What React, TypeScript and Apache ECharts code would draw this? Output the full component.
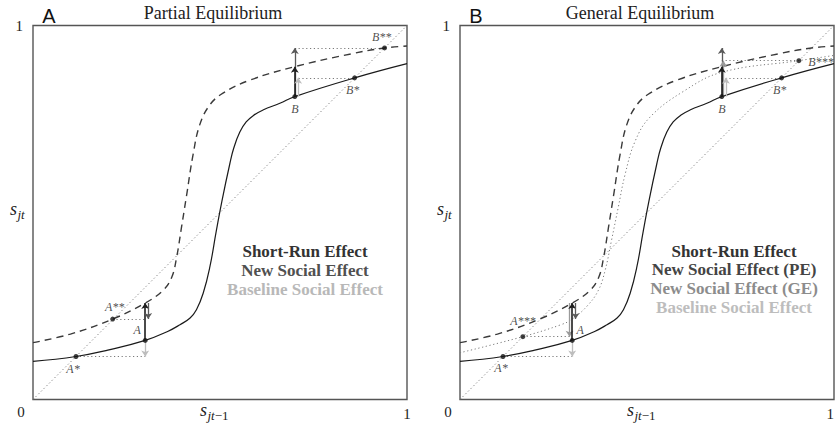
import React, { useEffect, useRef } from "react";
import * as echarts from "echarts";

// ---------- data ----------
const diagX = [0, 1];
const diagY = [0, 1];

const solidX = [0, 0.115, 0.2, 0.3, 0.36, 0.393, 0.42, 0.437, 0.455, 0.473, 0.49, 0.505, 0.526, 0.537, 0.553, 0.57, 0.59, 0.615, 0.66, 0.7, 0.86, 1];
const solidY = [0.102, 0.115, 0.132, 0.158, 0.182, 0.2, 0.218, 0.24, 0.284, 0.355, 0.45, 0.53, 0.629, 0.673, 0.715, 0.742, 0.76, 0.774, 0.792, 0.81, 0.86, 0.898];

const dashedX = [0, 0.1, 0.213, 0.3, 0.348, 0.371, 0.384, 0.397, 0.411, 0.428, 0.446, 0.473, 0.508, 0.58, 0.7, 0.85, 0.94, 1];
const dashedY = [0.152, 0.175, 0.215, 0.258, 0.292, 0.327, 0.38, 0.46, 0.548, 0.655, 0.735, 0.788, 0.819, 0.854, 0.89, 0.924, 0.94, 0.945];

const geX = [0, 0.168, 0.27, 0.3, 0.34, 0.37, 0.388, 0.405, 0.423, 0.441, 0.468, 0.508, 0.596, 0.7, 0.906, 1];
const geY = [0.125, 0.168, 0.2, 0.215, 0.25, 0.292, 0.345, 0.425, 0.513, 0.6, 0.69, 0.755, 0.823, 0.875, 0.906, 0.92];

const pointNamesA = ["A*", "A**", "A", "B", "B*", "B**"];
const pointXA = [0.115, 0.213, 0.3, 0.7, 0.86, 0.94];
const pointYA = [0.115, 0.215, 0.158, 0.81, 0.86, 0.94];

const pointNamesB = ["A*", "A***", "A", "B", "B*", "B***"];
const pointXB = [0.115, 0.168, 0.3, 0.7, 0.86, 0.906];
const pointYB = [0.115, 0.168, 0.158, 0.81, 0.86, 0.906];

// connectors: [x0, x1, y]
const connectorsA = [
  [0.115, 0.3, 0.115],
  [0.213, 0.3, 0.215],
  [0.7, 0.94, 0.94],
  [0.7, 0.86, 0.86],
];
const connectorsB = [
  [0.115, 0.3, 0.115],
  [0.168, 0.3, 0.168],
  [0.7, 0.906, 0.906],
  [0.7, 0.86, 0.86],
];

// arrows: [x, yFrom, yTo, kind]
const arrowsA: [number, number, number, string][] = [
  [0.3, 0.158, 0.115, "base"],
  [0.3, 0.158, 0.258, "short"],
  [0.308, 0.258, 0.215, "pe"],
  [0.7, 0.81, 0.94, "pe"],
  [0.7, 0.81, 0.89, "short"],
  [0.709, 0.81, 0.86, "base"],
];
const arrowsB: [number, number, number, string][] = [
  [0.3, 0.158, 0.115, "base"],
  [0.293, 0.258, 0.168, "ge"],
  [0.3, 0.158, 0.258, "short"],
  [0.309, 0.258, 0.215, "pe"],
  [0.7, 0.81, 0.94, "pe"],
  [0.704, 0.81, 0.906, "ge"],
  [0.7, 0.81, 0.89, "short"],
  [0.711, 0.81, 0.86, "base"],
];

const titles = ["Partial Equilibrium", "General Equilibrium"];
const panelLetters = ["A", "B"];
const legendA = ["Short-Run Effect", "New Social Effect", "Baseline Social Effect"];
const legendB = ["Short-Run Effect", "New Social Effect (PE)", "New Social Effect (GE)", "Baseline Social Effect"];
const tickLabels = ["0", "1"];
const xAxisName = ["s", "jt", "−1"];
const yAxisName = ["s", "jt"];

// ---------- styling ----------
const GRID_LEFT = [33, 460];
const GRID_TOP = 25.5;
const SIZE = 374;
const KIND_COLOR: Record<string, string> = {
  short: "#1e1e1e",
  pe: "#5a5a5a",
  ge: "#9a9a9a",
  base: "#bdbdbd",
};
const legendColorsA = ["#333333", "#505050", "#b8b8b8"];
const legendColorsB = ["#333333", "#444444", "#8c8c8c", "#bdbdbd"];

const labelOffsetsA: Record<string, [number, number]> = {
  "A*": [-3, 13],
  "A**": [2, -12],
  A: [-8, -10],
  B: [0, 12],
  "B*": [-2, 12],
  "B**": [-3, -11],
};
const labelOffsetsB: Record<string, [number, number]> = {
  "A*": [-2, 12],
  "A***": [0, -16],
  A: [8, -10],
  B: [0, 12],
  "B*": [-2, 12],
  "B***": [22, 1],
};

const pair = (xs: number[], ys: number[]) => xs.map((x, i) => [x, ys[i]]);

const SERIF = "Liberation Serif";
const SYM = 5;

function buildOption() {
  const grids = GRID_LEFT.map((left) => ({
    left,
    top: GRID_TOP,
    width: SIZE,
    height: SIZE,
    show: true,
    borderColor: "#555",
    borderWidth: 1.4,
    backgroundColor: "#fff",
    containLabel: false,
    outerBoundsMode: "none",
  }));

  const xAxes = [0, 1].map((i) => ({
    type: "value",
    gridIndex: i,
    min: 0,
    max: 1,
    interval: 1,
    splitLine: { show: false },
    axisTick: { show: false },
    axisLine: { show: false },
    axisLabel: {
      formatter: (v: number) => (v === 1 ? tickLabels[1] : ""),
      margin: 7,
      fontFamily: SERIF,
      fontSize: 15,
      color: "#222",
      alignMaxLabel: i === 1 ? "right" : "center",
    },
  }));

  const yAxes = [0, 1].map((i) => ({
    type: "value",
    gridIndex: i,
    min: 0,
    max: 1,
    interval: 1,
    splitLine: { show: false },
    axisTick: { show: false },
    axisLine: { show: false },
    axisLabel: {
      formatter: (v: number) => (v === 1 ? tickLabels[1] : ""),
      margin: 10,
      fontFamily: SERIF,
      fontSize: 15,
      color: "#222",
    },
  }));

  const series: any[] = [];
  [0, 1].forEach((gi) => {
    const base = { xAxisIndex: gi, yAxisIndex: gi, silent: true };
    series.push({
      ...base,
      type: "line",
      data: pair(diagX, diagY),
      symbol: "none",
      lineStyle: { color: "#7a7a7a", width: 1, type: [1.2, 2.6] },
      z: 2,
    });
    if (gi === 1) {
      series.push({
        ...base,
        type: "line",
        data: pair(geX, geY),
        symbol: "none",
        smooth: 0.4,
        lineStyle: { color: "#7a7a7a", width: 1, type: [1.2, 2.6] },
        z: 2,
      });
    }
    series.push({
      ...base,
      type: "line",
      data: pair(dashedX, dashedY),
      symbol: "none",
      smooth: 0.4,
      lineStyle: { color: "#3a3a3a", width: 1.4, type: [7, 5] },
      z: 3,
    });
    series.push({
      ...base,
      type: "line",
      data: pair(solidX, solidY),
      symbol: "none",
      smooth: 0.45,
      lineStyle: { color: "#1a1a1a", width: 1.2 },
      z: 3,
    });
    const conns = gi === 0 ? connectorsA : connectorsB;
    series.push({
      ...base,
      type: "lines",
      coordinateSystem: "cartesian2d",
      symbol: "none",
      lineStyle: { color: "#7a7a7a", width: 1, type: [1.2, 2.6], opacity: 1 },
      data: conns.map((c) => ({ coords: [[c[0], c[2]], [c[1], c[2]]] })),
      z: 2,
    });
    const arrs = gi === 0 ? arrowsA : arrowsB;
    arrs.forEach((a, k) => {
      series.push({
        ...base,
        type: "lines",
        coordinateSystem: "cartesian2d",
        symbol: ["none", "arrow"],
        symbolSize: [0, 6],
        lineStyle: { color: KIND_COLOR[a[3]], width: a[3] === "short" ? 1.6 : 1.3, opacity: 1 },
        data: [{ coords: [[a[0], a[1]], [a[0], a[2]]] }],
        z: 4 + k * 0.01,
      });
    });
    const names = gi === 0 ? pointNamesA : pointNamesB;
    const px = gi === 0 ? pointXA : pointXB;
    const py = gi === 0 ? pointYA : pointYB;
    const offs = gi === 0 ? labelOffsetsA : labelOffsetsB;
    series.push({
      ...base,
      type: "scatter",
      symbolSize: SYM,
      itemStyle: { color: "#111" },
      z: 6,
      data: names.map((n, i) => ({
        name: n,
        value: [px[i], py[i]],
        label: {
          position: [SYM / 2 + offs[n][0], SYM / 2 + offs[n][1]],
          color: "#222",
        },
      })),
      label: {
        show: true,
        align: "center",
        verticalAlign: "middle",
        formatter: (p: any) => p.name,
        fontFamily: SERIF,
        fontStyle: "italic",
        fontSize: 12,
        color: "#222",
        textBorderWidth: 0,
      },
    });
  });

  const graphic: any[] = [];
  const txt = (text: string, x: number, y: number, extra: any, align = "center") => ({
    type: "text",
    x,
    y,
    silent: true,
    style: {
      text,
      textAlign: align,
      textVerticalAlign: "middle",
      align,
      verticalAlign: "middle",
      ...extra,
    },
  });
  [0, 1].forEach((gi) => {
    const L = GRID_LEFT[gi];
    graphic.push(txt(titles[gi], L + 180, 13, { fontFamily: SERIF, fontSize: 18, fill: "#222" }));
    graphic.push(
      txt(panelLetters[gi], L + 16, 16, { fontFamily: "Liberation Sans", fontSize: 20, fill: "#111" })
    );
    graphic.push(txt(tickLabels[0], L - 12, 412, { fontFamily: SERIF, fontSize: 15, fill: "#222" }));

    // x-axis name s_{jt-1}
    const xs = L + 174;
    graphic.push(txt(xAxisName[0], xs, 410, { fontFamily: SERIF, fontStyle: "italic", fontSize: 18, fill: "#222" }, "right"));
    graphic.push({
      type: "text",
      x: xs + 0.5,
      y: 415.5,
      silent: true,
      style: {
        text: `{i|${xAxisName[1]}}{r|${xAxisName[2]}}`,
        align: "left",
        verticalAlign: "middle",
        textAlign: "left",
        textVerticalAlign: "middle",
        rich: {
          i: { fontFamily: SERIF, fontStyle: "italic", fontSize: 13, fill: "#222" },
          r: { fontFamily: SERIF, fontSize: 13, fill: "#222" },
        },
      },
    });
    // y-axis name s_{jt}
    const ys = L - 16;
    graphic.push(txt(yAxisName[0], ys, 209, { fontFamily: SERIF, fontStyle: "italic", fontSize: 18, fill: "#222" }, "right"));
    graphic.push(txt(yAxisName[1], ys + 0.5, 214.5, { fontFamily: SERIF, fontStyle: "italic", fontSize: 13, fill: "#222" }, "left"));

    const items = gi === 0 ? legendA : legendB;
    const cols = gi === 0 ? legendColorsA : legendColorsB;
    const cx = gi === 0 ? L + 272 : L + 274;
    const y0 = 251;
    const step = gi === 0 ? 19 : 18.7;
    items.forEach((t, i) => {
      graphic.push(
        txt(t, cx, y0 + i * step, {
          fontFamily: SERIF,
          fontSize: 17,
          fontWeight: "bold",
          fill: cols[i],
        })
      );
    });
  });

  return {
    animation: false,
    backgroundColor: "#fff",
    grid: grids,
    xAxis: xAxes,
    yAxis: yAxes,
    series,
    graphic,
  };
}

export default function App() {
  const ref = useRef<HTMLDivElement>(null);
  useEffect(() => {
    const chart = echarts.init(ref.current!, null, { renderer: "svg" });
    chart.setOption(buildOption() as any);
    return () => chart.dispose();
  }, []);
  return (
    <div
      ref={ref}
      style={{ position: "fixed", left: 0, top: 0, width: 836, height: 425, background: "#fff" }}
    />
  );
}
